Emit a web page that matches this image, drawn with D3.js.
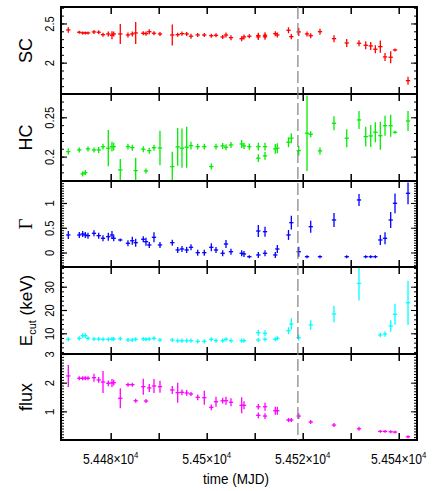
<!DOCTYPE html>
<html><head><meta charset="utf-8">
<script src="https://cdn.jsdelivr.net/npm/d3@7"></script>
<style>html,body{margin:0;padding:0;background:#fff;} svg{display:block;}</style>
</head><body>
<svg id="c" width="436" height="491"></svg>
<script>
// ---- data ----
const mjd = [54471.17, 54473.46, 54474.17, 54474.71, 54475.27, 54476.52, 54477.50, 54478.40, 54479.50, 54480.27,
  54480.63, 54482.00, 54483.60, 54484.50, 54485.21, 54486.79, 54487.35, 54488.04, 54489.02, 54490.27,
  54492.83, 54493.96, 54494.85, 54495.83, 54496.73, 54498.13, 54499.50, 54500.96, 54501.94, 54503.33,
  54504.02, 54505.06, 54507.29, 54507.77, 54508.88, 54510.75, 54510.75, 54512.15, 54512.15, 54514.29,
  54514.71, 54517.04, 54517.63, 54519.17, 54520.90, 54521.67, 54523.60, 54526.52, 54529.17, 54531.73,
  54533.13, 54534.17, 54535.13, 54536.17, 54537.15, 54538.33, 54539.23, 54541.94];
const mjdHalfWidth = 0.45;

const scVal = [2.417, 2.388, 2.379, 2.379, 2.379, 2.392, 2.388, 2.357, 2.366, 2.349,
  2.366, 2.366, 2.353, 2.366, 2.379, 2.375, 2.370, 2.395, 2.375, 2.366,
  2.353, 2.357, 2.370, 2.366, 2.337, 2.353, 2.353, 2.344, 2.349, 2.328,
  2.353, 2.319, 2.306, 2.328, 2.337, 2.345, 2.328, 2.350, 2.330, 2.370,
  2.353, 2.413, 2.332, 2.392, 2.366, 2.344, 2.395, 2.306, 2.251, 2.247,
  2.222, 2.213, 2.171, 2.204, 2.073, 2.069, 2.162, 1.770];
const scErr = [0.035, 0.02, 0.02, 0.02, 0.02, 0.026, 0.026, 0.026, 0.032, 0.051,
  0.032, 0.128, 0.032, 0.032, 0.14, 0.026, 0.026, 0.032, 0.026, 0.026,
  0.134, 0.026, 0.026, 0.026, 0.032, 0.026, 0.026, 0.026, 0.026, 0.026,
  0.032, 0.032, 0.032, 0.032, 0.026, 0.038, 0.038, 0.038, 0.038, 0.032,
  0.032, 0.038, 0.032, 0.051, 0.032, 0.032, 0.038, 0.045, 0.051, 0.038,
  0.051, 0.051, 0.051, 0.077, 0.051, 0.077, 0.02, 0.051];

const hcVal = [0.2063, 0.2085, 0.1780, 0.1797, 0.2098, 0.2085, 0.2085, 0.2127, 0.2107, 0.2127,
  0.2127, 0.1831, 0.2127, 0.2114, 0.1822, 0.2094, 0.1818, 0.2076, 0.2114, 0.2110,
  0.1873, 0.2123, 0.2107, 0.2119, 0.2140, 0.2127, 0.2127, 0.1873, 0.2127, 0.2136,
  0.2119, 0.2148, 0.2161, 0.2136, 0.2127, 0.2127, 0.1980, 0.2127, 0.2009, 0.2098,
  0.2107, 0.2183, 0.2234, 0.2076, 0.2297, 0.2284, 0.2072, 0.2424, 0.2234, 0.2466,
  0.2254, 0.2263, 0.2310, 0.2266, 0.2393, 0.2393, 0.2310, 0.2453];
const hcErr = [0.004, 0.0032, 0.0032, 0.0032, 0.0032, 0.0032, 0.0038, 0.0038, 0.023, 0.0063,
  0.005, 0.014, 0.0038, 0.0038, 0.0165, 0.0038, 0.0032, 0.0038, 0.0038, 0.022,
  0.019, 0.024, 0.025, 0.026, 0.005, 0.0038, 0.0038, 0.0038, 0.0038, 0.0038,
  0.0038, 0.0038, 0.005, 0.004, 0.004, 0.005, 0.005, 0.005, 0.005, 0.0063,
  0.0063, 0.0063, 0.0063, 0.0063, 0.048, 0.0038, 0.0044, 0.0089, 0.0114, 0.0114,
  0.0127, 0.014, 0.0127, 0.0178, 0.0127, 0.014, 0.0019, 0.0127];

const gammaVal = [0.354, 0.354, 0.374, 0.354, 0.340, 0.388, 0.340, 0.287, 0.319, 0.354,
  0.287, 0.253, 0.186, 0.238, 0.198, 0.267, 0.218, 0.152, 0.307, 0.152,
  0.198, 0.051, 0.071, 0.051, 0.105, -0.004, -0.004, 0.105, 0.051, -0.016,
  0.172, 0.016, -0.016, -0.030, -0.085, 0.434, -0.050, 0.420, -0.016, -0.050,
  0.071, 0.354, 0.602, 0.016, -0.085, 0.521, -0.085, 0.657, -0.085, 1.061,
  -0.085, -0.085, -0.085, 0.253, 0.287, 0.657, 0.994, 1.196];
const gammaErr = [0.08, 0.06, 0.06, 0.06, 0.06, 0.06, 0.06, 0.06, 0.08, 0.08,
  0.06, 0.03, 0.06, 0.08, 0.08, 0.06, 0.08, 0.06, 0.1, 0.06,
  0.06, 0.06, 0.06, 0.06, 0.06, 0.06, 0.06, 0.08, 0.06, 0.06,
  0.08, 0.06, 0.06, 0.06, 0.03, 0.12, 0.06, 0.1, 0.06, 0.06,
  0.08, 0.1, 0.14, 0.1, 0.03, 0.12, 0.03, 0.14, 0.03, 0.12,
  0.03, 0.03, 0.03, 0.1, 0.12, 0.16, 0.2, 0.22];

const ecutVal = [7.42, 7.85, 8.97, 8.97, 7.85, 7.55, 7.55, 7.42, 7.42, 7.55,
  7.55, 7.68, 7.12, 7.12, 7.42, 7.55, 7.42, 7.55, 7.85, 7.12,
  7.12, 6.82, 6.82, 6.82, 6.82, 6.57, 6.57, 7.42, 6.82, 6.82,
  7.42, 6.82, 6.82, 6.82, null, 10.26, 7.12, 10.0, 7.42, 7.42,
  7.85, 11.12, 13.99, 8.11, null, 13.56, null, 18.28, null, 31.4,
  null, null, null, 9.27, 9.7, 13.13, 18.15, 23.1];
const ecutErr = [0.9, 0.9, 1.0, 1.0, 0.9, 0.9, 0.9, 0.9, 0.9, 0.9,
  0.9, 0.9, 0.9, 0.9, 0.9, 0.9, 0.9, 0.9, 0.9, 0.9,
  0.9, 0.9, 0.9, 0.9, 0.9, 0.9, 0.9, 0.9, 0.9, 0.9,
  0.9, 0.9, 0.9, 0.9, null, 1.3, 0.9, 1.3, 0.9, 0.9,
  0.9, 1.5, 2.5, 1.3, null, 2.0, null, 3.5, null, 7.3,
  null, null, null, 1.0, 1.2, 2.5, 4.5, 9.5];

const fluxVal = [2.234, 2.154, 2.154, 2.154, 2.154, 2.175, 2.094, 2.024, 1.979, 1.990,
  2.000, 1.455, 1.930, 1.930, 1.370, 1.860, 1.360, 1.815, 1.885, 1.860,
  1.745, 1.650, 1.664, 1.640, 1.605, 1.490, 1.475, 1.140, 1.336, 1.370,
  1.370, 1.315, 1.210, 1.210, null, 1.160, 0.860, 1.160, 0.836, 1.020,
  1.020, 0.696, 0.696, 0.836, null, 0.626, null, 0.521, null, 0.392,
  null, null, null, 0.300, 0.300, 0.287, 0.276, 0.112];
const fluxErr = [0.385, 0.07, 0.07, 0.07, 0.07, 0.14, 0.1, 0.385, 0.1, 0.14,
  0.1, 0.35, 0.07, 0.07, 0.07, 0.28, 0.07, 0.14, 0.245, 0.21,
  0.14, 0.35, 0.1, 0.1, 0.07, 0.1, 0.245, 0.1, 0.175, 0.1,
  0.14, 0.14, 0.28, 0.14, null, 0.1, 0.1, 0.14, 0.1, 0.14,
  0.14, 0.07, 0.07, 0.1, null, 0.07, null, 0.07, null, 0.07,
  null, null, null, 0.05, 0.05, 0.05, 0.05, 0.05];

const xTickValues = [54480, 54490, 54500, 54510, 54520, 54530, 54540];
const xLabelValues = [54480, 54500, 54520, 54540];
const transitionMJD = 54519.0;

const panelTitles = ['SC', 'HC', 'Γ', 'Ecut', 'flux'];
const panelMajorTicks = [[2, 2.5], [0.2, 0.25], [0, 0.5, 1], [10, 20, 30], [1, 2, 3]];

// ---- layout / style ----
const panels = [
  {vals: scVal, errs: scErr, domain: [1.6, 2.71], minorStep: 0.1, color: '#ff0000'},
  {vals: hcVal, errs: hcErr, domain: [0.169, 0.2796], minorStep: 0.01, color: '#00ee00'},
  {vals: gammaVal, errs: gammaErr, domain: [-0.293, 1.444], minorStep: 0.05, color: '#0000ff'},
  {vals: ecutVal, errs: ecutErr, domain: [1.12, 38.45], minorStep: 2, color: '#00ffff'},
  {vals: fluxVal, errs: fluxErr, domain: [0, 3.0], minorStep: 0.1, color: '#ff00ff'}
];
const left = 61, right = 417;
const bounds = [7, 94, 181, 267, 354, 440];
const FONT = '"Liberation Sans", Arial, Helvetica, sans-serif';

const svg = d3.select('#c');
const x = d3.scaleLinear().domain([54469.65, 54543.81]).range([left, right]);
const defs = svg.append('defs');

panels.forEach((p, i) => {
  const y0 = bounds[i], y1 = bounds[i + 1];
  const y = d3.scaleLinear().domain(p.domain).range([y1, y0]);
  const cid = 'clip' + i;
  defs.append('clipPath').attr('id', cid).append('rect')
    .attr('x', left).attr('y', y0).attr('width', right - left).attr('height', y1 - y0);

  const pts = mjd.map((t, j) => ({t, v: p.vals[j], e: p.errs[j]})).filter(d => d.v != null);
  const dg = svg.append('g').attr('clip-path', `url(#${cid})`)
    .attr('stroke', p.color).attr('stroke-width', 1.3).attr('fill', 'none');
  dg.selectAll('line.ev').data(pts).join('line').attr('class', 'ev')
    .attr('x1', d => x(d.t)).attr('x2', d => x(d.t))
    .attr('y1', d => y(d.v - d.e)).attr('y2', d => y(d.v + d.e));
  dg.selectAll('line.eh').data(pts).join('line').attr('class', 'eh')
    .attr('x1', d => x(d.t - mjdHalfWidth)).attr('x2', d => x(d.t + mjdHalfWidth))
    .attr('y1', d => y(d.v)).attr('y2', d => y(d.v));

  // minor ticks
  const st = p.minorStep;
  const minor = d3.range(Math.ceil(p.domain[0] / st - 1e-9), Math.floor(p.domain[1] / st + 1e-9) + 1)
    .map(k => +(k * st).toFixed(6));
  const axMinL = d3.axisLeft(y).tickValues(minor).tickSizeInner(-3).tickSizeOuter(0).tickFormat('');
  const axMinR = d3.axisRight(y).tickValues(minor).tickSizeInner(-3).tickSizeOuter(0).tickFormat('');
  const axMajL = d3.axisLeft(y).tickValues(panelMajorTicks[i]).tickSizeInner(-6).tickSizeOuter(0)
    .tickFormat(d3.format('~g'));
  const axMajR = d3.axisRight(y).tickValues(panelMajorTicks[i]).tickSizeInner(-6).tickSizeOuter(0).tickFormat('');
  [[axMinL, left], [axMinR, right], [axMajR, right]].forEach(([ax, xx]) => {
    svg.append('g').attr('transform', `translate(${xx},0)`).call(ax)
      .call(g => g.select('.domain').remove())
      .call(g => g.selectAll('line').attr('stroke', '#000').attr('stroke-width', 1));
  });
  svg.append('g').attr('transform', `translate(${left},0)`).call(axMajL)
    .call(g => g.select('.domain').remove())
    .call(g => g.selectAll('line').attr('stroke', '#000').attr('stroke-width', 1.2))
    .call(g => g.selectAll('text')
      .attr('x', 0).attr('y', -7).attr('dy', '0')
      .attr('transform', 'rotate(-90) scale(0.86,1)')
      .attr('text-anchor', 'middle')
      .attr('fill', '#000')
      .style('font-family', FONT).style('font-size', '13px'));

  // x ticks on top/bottom of each panel
  const axTop = d3.axisBottom(x).tickValues(xTickValues).tickSizeInner(7).tickSizeOuter(0).tickFormat('');
  const axBot = d3.axisTop(x).tickValues(xTickValues).tickSizeInner(7).tickSizeOuter(0).tickFormat('');
  svg.append('g').attr('transform', `translate(0,${y0})`).call(axTop)
    .call(g => g.select('.domain').remove())
    .call(g => g.selectAll('line').attr('stroke', '#000').attr('stroke-width', 1.5));
  svg.append('g').attr('transform', `translate(0,${y1})`).call(axBot)
    .call(g => g.select('.domain').remove())
    .call(g => g.selectAll('line').attr('stroke', '#000').attr('stroke-width', 1.5));

  // titles
  const cy = (y0 + y1) / 2;
  const tg = svg.append('g').attr('transform', `translate(32,${cy}) rotate(-90)`);
  const title = panelTitles[i];
  if (title === 'Ecut') {
    const t = tg.append('text').attr('text-anchor', 'middle').attr('fill', '#000')
      .style('font-family', FONT).style('font-size', '17px');
    t.append('tspan').text('E');
    t.append('tspan').attr('dy', 4).style('font-size', '11px').text('cut');
    t.append('tspan').attr('dy', -4).text(' (keV)');
  } else {
    tg.append('text').attr('text-anchor', 'middle').attr('fill', '#000')
      .style('font-family', title === 'Γ' ? '"Liberation Serif", "Times New Roman", serif' : FONT)
      .style('font-size', title === 'Γ' ? '19px' : '18px')
      .text(title);
  }
});

// frame
const fr = svg.append('g').attr('stroke', '#000').attr('stroke-width', 2);
bounds.forEach(b => fr.append('line').attr('x1', left - 1).attr('x2', right + 1).attr('y1', b).attr('y2', b));
fr.append('line').attr('x1', left).attr('x2', left).attr('y1', bounds[0]).attr('y2', bounds[5]);
fr.append('line').attr('x1', right).attr('x2', right).attr('y1', bounds[0]).attr('y2', bounds[5]);

// dashed transition line
svg.append('line').attr('x1', x(transitionMJD)).attr('x2', x(transitionMJD))
  .attr('y1', bounds[0]).attr('y2', bounds[5])
  .attr('stroke', '#808080').attr('stroke-width', 1.2).attr('stroke-dasharray', '12,4');

// x tick labels
xLabelValues.forEach(v => {
  const g = svg.append('g').attr('transform', `translate(${x(v)},463.5) scale(0.87,1)`);
  const t = g.append('text').attr('text-anchor', 'middle').attr('fill', '#000')
    .style('font-family', FONT).style('font-size', '14px');
  t.append('tspan').text((v / 1e4).toFixed(3).replace(/0+$/, '') + '×10');
  t.append('tspan').attr('dy', -6).style('font-size', '9px').text('4');
});
svg.append('g').attr('transform', `translate(236,484) scale(0.9,1)`)
  .append('text').attr('text-anchor', 'middle').attr('fill', '#000')
  .style('font-family', FONT).style('font-size', '15px').text('time (MJD)');
</script>
</body></html>
